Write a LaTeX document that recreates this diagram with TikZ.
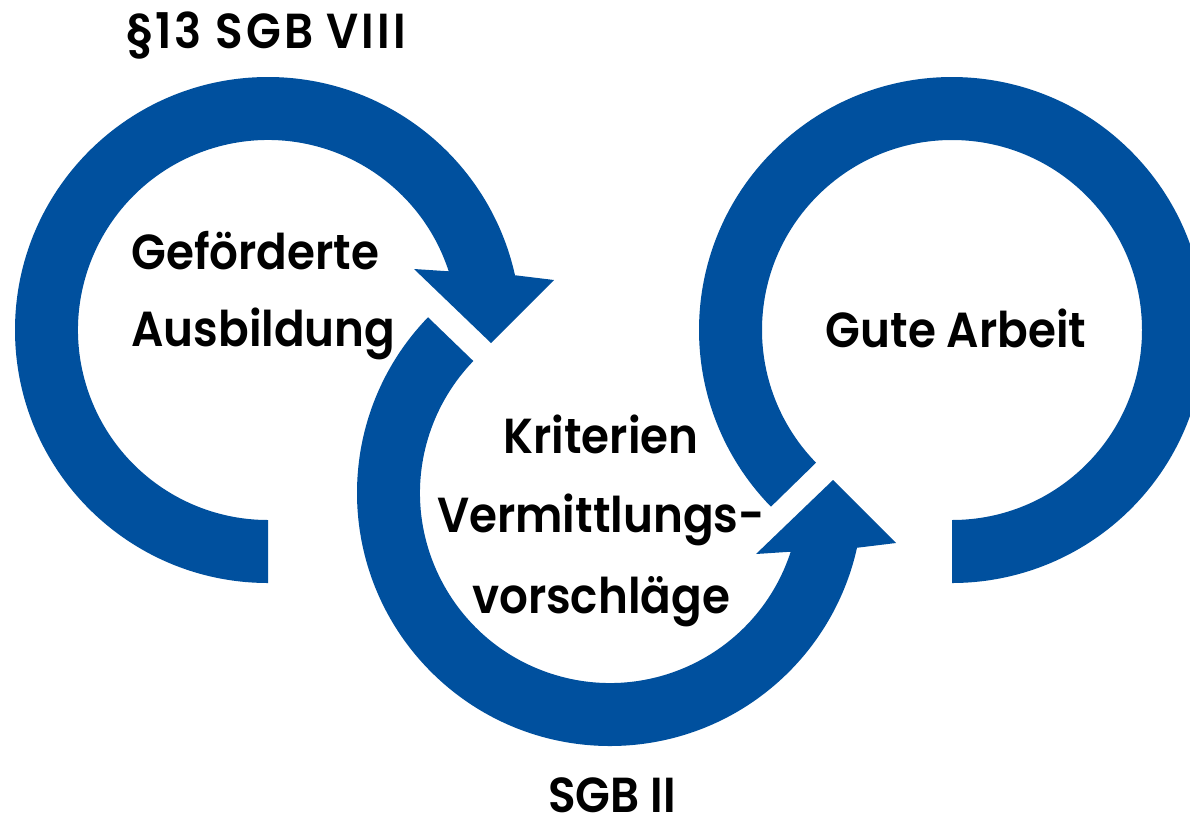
\documentclass[tikz,border=0pt]{standalone}
\usepackage{fontspec}
\setmainfont{Poppins}[UprightFont=* SemiBold,FakeStretch=0.92]
\newfontfamily\titlefont{Poppins}[UprightFont=* SemiBold,FakeStretch=0.92,LetterSpace=6]
\definecolor{ringblue}{RGB}{0,80,158}
\begin{document}
\begin{tikzpicture}[x=0.02cm,y=-0.02cm,
  ring/.style={fill=ringblue,draw=none},
  lbl/.style={inner sep=0pt,text=black,font=\fontsize{28}{34}\selectfont}]
\useasboundingbox[fill=white] (0,0) rectangle (1190,822);
\coordinate (c1) at (268,330);
\coordinate (c2) at (610,493);
\coordinate (c3) at (952,330);
% ring 1 with arrowhead
\fill[ring] ([shift={(90:253)}]c1) arc[start angle=90,end angle=347.5,radius=253]
  -- ([shift={(286,-50)}]c1) -- ([shift={(223,13)}]c1) -- ([shift={(146,-61)}]c1)
  -- ([shift={(342:190)}]c1) arc[start angle=342,end angle=90,radius=190] -- cycle;
% ring 2 with arrowhead
\fill[ring] ([shift={(224:253)}]c2) arc[start angle=224,end angle=12.5,radius=253]
  -- ([shift={(286,50)}]c2) -- ([shift={(223,-13)}]c2) -- ([shift={(146,61)}]c2)
  -- ([shift={(18:190)}]c2) arc[start angle=18,end angle=224,radius=190] -- cycle;
% ring 3
\fill[ring] ([shift={(135.7:253)}]c3) arc[start angle=135.7,end angle=450,radius=253]
  -- ([shift={(90:190)}]c3) arc[start angle=450,end angle=135.7,radius=190] -- cycle;
% labels
\node[lbl,anchor=base,font=\titlefont\fontsize{28}{34}\selectfont] (t1) at (266,48) {§13 SGB VIII};
\node[lbl,anchor=base west] (a1) at (131,269) {Geförderte};
\node[lbl,anchor=base west] (a2) at (131,346) {Ausbildung};
\node[lbl,anchor=base] (k1) at (601,453) {Kriterien};
\node[lbl,anchor=base] (k2) at (601,532) {Vermittlungs-};
\node[lbl,anchor=base] (k3) at (601,613) {vorschläge};
\node[lbl,anchor=base] (g1) at (956,347) {Gute Arbeit};
\node[lbl,anchor=base] (s2) at (612,812) {SGB II};
\end{tikzpicture}
\end{document}
